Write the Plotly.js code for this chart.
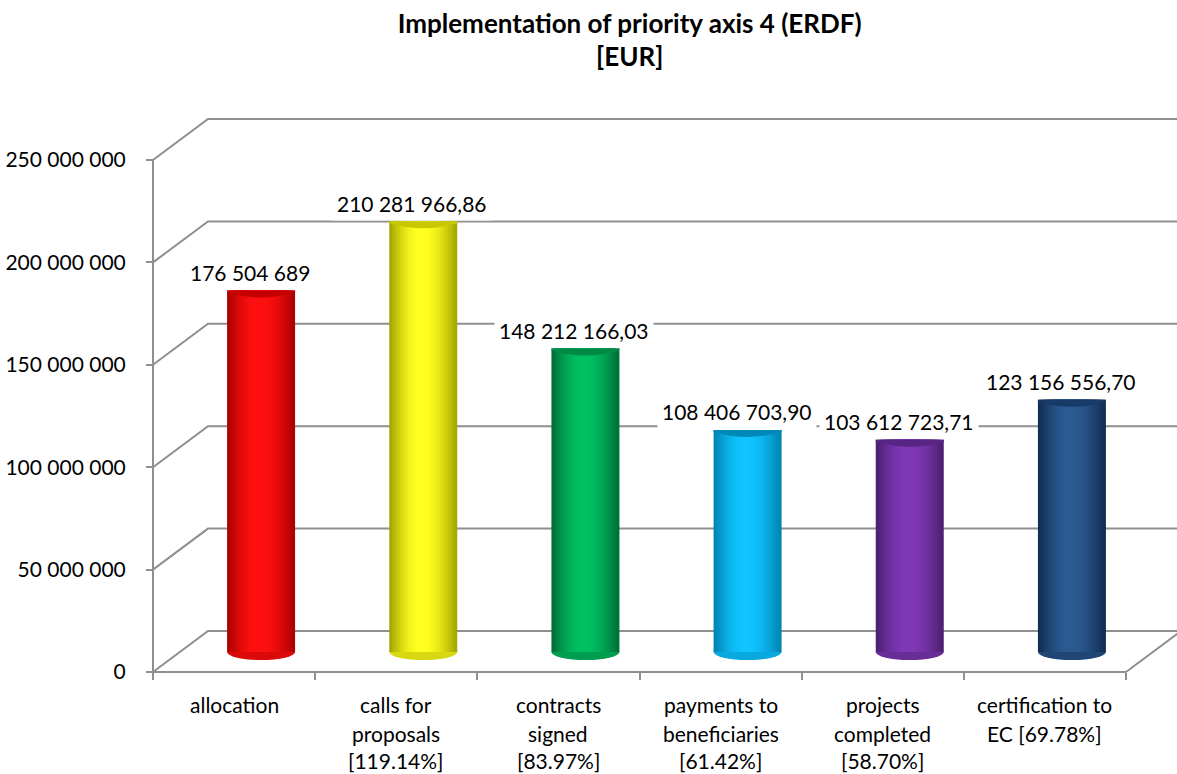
<!DOCTYPE html>
<html>
<head>
<meta charset="utf-8">
<script src="https://cdn.plot.ly/plotly-3.0.1.min.js"></script>
<style>html,body{margin:0;padding:0;background:#fff;}#chart{width:1177px;height:774px;}</style>
</head>
<body>
<div id="chart"></div>
<script>
// ---------- data ----------
const categories = ["allocation", "calls for<br>proposals<br>[119.14%]", "contracts<br>signed<br>[83.97%]",
  "payments to<br>beneficiaries<br>[61.42%]", "projects<br>completed<br>[58.70%]", "certification to<br>EC [69.78%]"];
const values = [176504689, 210281966.86, 148212166.03, 108406703.90, 103612723.71, 123156556.70];
const valueLabels = ["176 504 689", "210 281 966,86", "148 212 166,03", "108 406 703,90", "103 612 723,71", "123 156 556,70"];
const yTickVals = [0, 50000000, 100000000, 150000000, 200000000, 250000000];
const yTickText = ["0", "50 000 000", "100 000 000", "150 000 000", "200 000 000", "250 000 000"];
const edgeColors = ["#b00000", "#a8a800", "#00703a", "#0085b5", "#4e2072", "#122e52"];
const centerColors = ["#ff1010", "#ffff20", "#00c060", "#10c4ff", "#7f38b5", "#2b5a92"];
const topColors = ["#c40000", "#c8c800", "#008a45", "#0088b8", "#582485", "#173a66"];
const titleText = "Implementation of priority axis 4 (ERDF)<br>[EUR]";

// ---------- geometry (pixels) ----------
const W = 1177, H = 774;
const plotL = 145, plotR = 1177, plotT = 100, plotB = 680;
const axisXpx = 153, zeroPx = 672;
const catPx = (1126 - 153) / 6;
const kY = 250000000 / 512;           // value units per pixel
const backDx = 55, backDy = 41;      // back wall offset
const midDx = 27, midDy = 20;        // bar depth offset
const barPx = 68;

const xRange = [-0.5 - (axisXpx - plotL) / catPx, -0.5 + (plotR - axisXpx) / catPx];
const yRange = [-(plotB - zeroPx) * kY, (zeroPx - plotT) * kY];
const x2Range = [xRange[0] - midDx / catPx, xRange[1] - midDx / catPx];
const y2Range = [yRange[0] - midDy * kY, yRange[1] - midDy * kY];

const FONT = "Lato, 'Open Sans', sans-serif";
const gridColor = "#8f8f8f";

function hex2rgb(h){h=h.replace('#','');return [0,2,4].map(i=>parseInt(h.substr(i,2),16));}
function lerp(a,b,t){const A=hex2rgb(a),B=hex2rgb(b);return 'rgb('+A.map((v,i)=>Math.round(v+(B[i]-v)*t)).join(',')+')';}

const xIdx = values.map((v,i)=>i);
const w = barPx / catPx;
const hl = 0.47;
const N = 12;
const traces = [];
for (let j = 0; j < N; j++) {
  const f = j / N;
  const left = -w/2 + f * hl * w;
  const right = w/2 - f * (1 - hl) * w;
  const t = Math.sin((j / (N - 1)) * Math.PI / 2);
  traces.push({
    type: 'bar', x: xIdx, y: values, xaxis: 'x2', yaxis: 'y2',
    offset: left, width: right - left,
    marker: {color: values.map((v,i)=>lerp(edgeColors[i], centerColors[i], t)), line: {width: 0}},
    hoverinfo: 'skip', showlegend: false
  });
}

// ---------- shapes ----------
const shapes = [];
const line = {color: gridColor, width: 2};
const backX0 = -0.5 + backDx / catPx;
yTickVals.forEach(t => {
  shapes.push({type: 'path', xref: 'x', yref: 'y', layer: 'below', line: line,
    path: `M ${-0.5},${t} L ${backX0},${t + backDy * kY} L ${xRange[1] + 1},${t + backDy * kY}`});
});
// front vertical axis
shapes.push({type: 'line', xref: 'x', yref: 'y', layer: 'below', line: line, x0: -0.5, x1: -0.5, y0: 0, y1: yTickVals[yTickVals.length - 1]});
// floor front edge and right edge
shapes.push({type: 'line', xref: 'x', yref: 'y', layer: 'below', line: line, x0: -0.5, x1: categories.length - 0.5, y0: 0, y1: 0});
shapes.push({type: 'line', xref: 'x', yref: 'y', layer: 'below', line: line,
  x0: categories.length - 0.5, x1: categories.length - 0.5 + backDx / catPx, y0: 0, y1: backDy * kY});
// bottom ellipses (below bars)
values.forEach((v, i) => {
  shapes.push({type: 'circle', xref: 'x2', yref: 'y2', layer: 'below',
    x0: i - w/2, x1: i + w/2, y0: -8 * kY, y1: 8 * kY,
    fillcolor: lerp(edgeColors[i], centerColors[i], 0.55), line: {width: 0}});
});
// top caps
values.forEach((v, i) => {
  const L = i - w/2, R = i + w/2;
  shapes.push({type: 'path', xref: 'x2', yref: 'y2', layer: 'above', fillcolor: topColors[i], line: {width: 0},
    path: `M ${L},${v} L ${R},${v} L ${R},${v - 2*kY} Q ${i},${v - 12*kY} ${L},${v - 2*kY} Z`});
});

// ---------- annotations ----------
const annotations = [];
values.forEach((v, i) => {
  annotations.push({xref: 'x2', yref: 'y2', x: i, y: v, xshift: -11, yshift: 18, yanchor: 'middle', xanchor: 'center',
    text: valueLabels[i], showarrow: false, bgcolor: '#ffffff', borderpad: 4,
    font: {family: FONT, size: 21, color: '#000'}});
});
const lineShift = [32, 61, 88];
categories.forEach((c, i) => {
  c.split('<br>').forEach((ln, j) => {
    annotations.push({xref: 'x', yref: 'y', x: i, y: 0, yshift: -lineShift[j], yanchor: 'middle', xanchor: 'center',
      text: ln, showarrow: false, font: {family: FONT, size: 21, color: '#000'}});
  });
});

const layout = {
  width: W, height: H,
  margin: {l: plotL, r: W - plotR, t: plotT, b: H - plotB, pad: 0},
  paper_bgcolor: '#fff', plot_bgcolor: 'rgba(0,0,0,0)',
  barmode: 'overlay', showlegend: false,
  title: {text: titleText, x: 0.535, xanchor: 'center', y: 0.958, yanchor: 'top',
    font: {family: FONT, size: 26, color: '#000', weight: 'bold'}},
  xaxis: {type: 'linear', range: xRange, anchor: 'free', position: (plotB - zeroPx) / (plotB - plotT),
    tickvals: categories.map((c, i) => i - 0.5).concat([categories.length - 0.5]),
    ticktext: categories.map(() => '').concat(['']),
    ticks: 'outside', ticklen: 7, tickwidth: 2, tickcolor: gridColor,
    showgrid: false, zeroline: false, showline: false, fixedrange: true},
  yaxis: {range: yRange, anchor: 'free', position: (axisXpx - plotL) / (plotR - plotL),
    tickvals: yTickVals, ticktext: yTickText,
    ticks: 'outside', ticklen: 7, tickwidth: 2, tickcolor: gridColor, ticklabelstandoff: 16,
    tickfont: {family: FONT, size: 21, color: '#000'},
    showgrid: false, zeroline: false, showline: false, fixedrange: true},
  xaxis2: {type: 'linear', range: x2Range, overlaying: 'x', visible: false, fixedrange: true},
  yaxis2: {range: y2Range, overlaying: 'y', visible: false, fixedrange: true},
  shapes: shapes,
  annotations: annotations
};

Plotly.newPlot('chart', traces, layout, {displayModeBar: false, staticPlot: true});
</script>
</body>
</html>
